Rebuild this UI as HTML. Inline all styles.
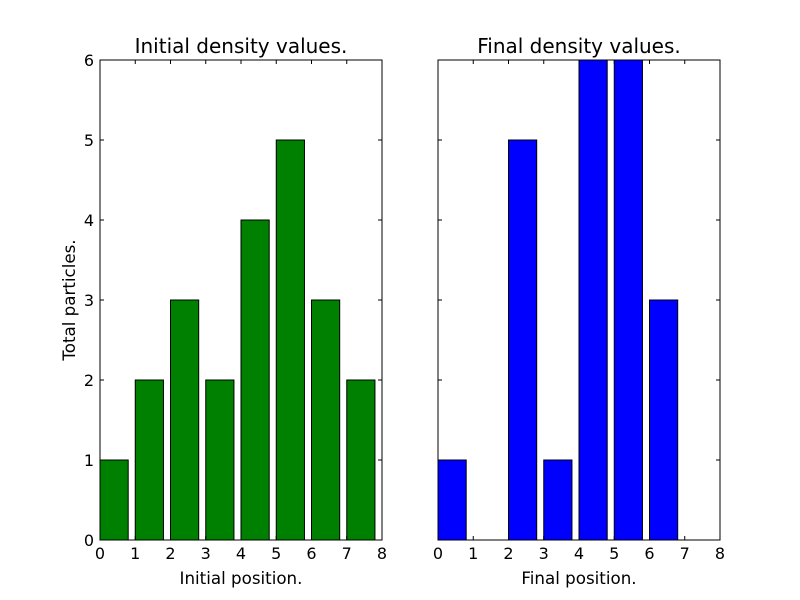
<!DOCTYPE html>
<html><head><meta charset="utf-8"><style>body{margin:0;background:#fff}svg{display:block;font-family:"DejaVu Sans","Liberation Sans",sans-serif}</style></head>
<body>
<svg id="chart" width="800" height="600" xmlns="http://www.w3.org/2000/svg"></svg>
<script>
const positions = [0,1,2,3,4,5,6,7];
const initialValues = [1,2,3,2,4,5,3,2];
const finalValues = [1,0,5,1,6,6,3,0];
const xTicks = [0,1,2,3,4,5,6,7,8];
const yTicks = [0,1,2,3,4,5,6];
const svg = document.getElementById('chart');
const NS = 'http://www.w3.org/2000/svg';
function el(tag, attrs, parent){const e=document.createElementNS(NS,tag);for(const k in attrs)e.setAttribute(k,attrs[k]);(parent||svg).appendChild(e);return e;}
function panel(x0, values, color, title, xlabel, showY, key){
  const w=282,top=60,bot=540;
  const sx=v=>x0+v*w/8, sy=v=>bot-v*(bot-top)/6;
  const g=el('g',{});
  
  
  values.forEach((v,i)=>{
    if(v<=0){el('line',{x1:sx(positions[i]),x2:sx(positions[i]+0.8),y1:bot,y2:bot,stroke:'#000'},g);return;}
    const r=el('rect',{x:sx(positions[i]),y:sy(v),width:sx(0.8)-sx(0),height:bot-sy(v),fill:color,stroke:'#000','stroke-width':1},g);
    
    
  });
  el('rect',{x:x0,y:top,width:w,height:bot-top,fill:'none',stroke:'#000','stroke-width':1},g);
  xTicks.forEach(t=>{
    el('line',{x1:sx(t),x2:sx(t),y1:bot,y2:bot-4,stroke:'#000'},g);
    el('line',{x1:sx(t),x2:sx(t),y1:top,y2:top+4,stroke:'#000'},g);
    const tx=el('text',{x:sx(t),y:bot+19,'text-anchor':'middle','font-size':16},g);tx.textContent=t;
    
    
  });
  yTicks.forEach(t=>{
    el('line',{x1:x0,x2:x0+4,y1:sy(t),y2:sy(t),stroke:'#000'},g);
    el('line',{x1:x0+w,x2:x0+w-4,y1:sy(t),y2:sy(t),stroke:'#000'},g);
    if(showY){const ty=el('text',{x:x0-6,y:sy(t)+6,'text-anchor':'end','font-size':16},g);ty.textContent=t;
      
      }
  });
  const tt=el('text',{x:x0+w/2,y:top-7,'text-anchor':'middle','font-size':20},g);tt.textContent=title;
  
  
  const xl=el('text',{x:x0+w/2,y:bot+44,'text-anchor':'middle','font-size':16.7},g);xl.textContent=xlabel;
  
  
}
panel(100, initialValues, '#008000', 'Initial density values.', 'Initial position.', true, 'initial');
panel(438, finalValues, '#0000ff', 'Final density values.', 'Final position.', false, 'final');
const yl=el('text',{x:0,y:0,'text-anchor':'middle','font-size':16.7,transform:'translate(75,300) rotate(-90)'});
yl.textContent='Total particles.';


</script>
</body></html>
